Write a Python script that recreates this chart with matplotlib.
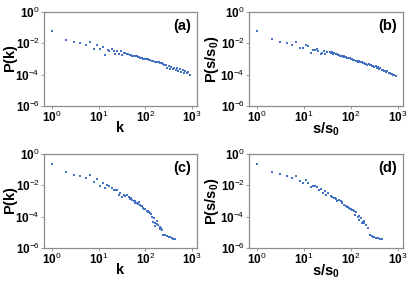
import math
import matplotlib
matplotlib.use("Agg")
import matplotlib.pyplot as plt
from matplotlib.ticker import FixedLocator, FuncFormatter, NullLocator

plt.rcParams['font.family'] = ['Liberation Sans', 'DejaVu Sans']
plt.rcParams['mathtext.fontset'] = 'custom'
plt.rcParams['mathtext.rm'] = 'Liberation Sans'
plt.rcParams['mathtext.bf'] = 'Liberation Sans:bold'
plt.rcParams['mathtext.it'] = 'Liberation Sans:italic'

# (a) degree distribution, first network
k_a = [1, 2, 3, 4, 5.4, 6.6, 7.9, 9.2, 10.6, 12.2, 13.5, 15.8, 17, 19, 21, 23, 25, 27.5, 30, 32, 35,
       37, 40, 43, 46, 49, 52, 56, 60, 65, 69, 74, 79, 85, 91, 98, 105, 112, 120, 129, 138, 148,
       158, 170, 182, 195, 209, 224, 240, 257, 275, 295, 316, 339, 363, 389, 417, 447, 479, 513,
       550, 589, 631, 676, 724, 776, 832, 891]
p_a = [0.057, 0.017, 0.0117, 0.0107, 0.0074, 0.0129, 0.0041, 0.0083, 0.0044, 0.0061, 0.0019,
       0.0039, 0.0034, 0.0044, 0.0031, 0.0020, 0.0034, 0.0021, 0.0031, 0.0017, 0.0023,
       2.5e-3, 2.0e-3, 2.2e-3, 1.8e-3, 1.9e-3, 1.6e-3, 1.66e-3, 1.45e-3, 1.48e-3, 1.32e-3,
       1.29e-3, 1.17e-3, 1.17e-3, 1.07e-3, 1.05e-3, 9.3e-4, 9.3e-4, 8.5e-4, 8.3e-4, 7.6e-4,
       7.4e-4, 6.8e-4, 6.6e-4, 6.0e-4, 6.0e-4, 5.4e-4, 5.2e-4, 5.0e-4, 4.4e-4, 4.2e-4, 2.8e-4,
       3.5e-4, 2.4e-4, 3.2e-4, 2.2e-4, 2.8e-4, 1.9e-4, 2.5e-4, 1.66e-4, 2.2e-4, 1.45e-4,
       2.0e-4, 1.32e-4, 1.66e-4, 1.2e-4, 1.4e-4, 1.0e-4]

# (b) strength distribution, first network
s_b = [1, 2.07, 3.1, 4.3, 5.5, 6.7, 8.1, 9.4, 10.9, 12.2, 13.9, 15.4, 17, 19, 20.3, 22.8, 24.4,
       26.8, 28.7, 31.6,
       35.5, 37.6, 39.8, 42.2, 44.7, 47.3, 50.1, 53.1, 56.2, 59.6, 63.1, 66.8, 70.8, 75.0, 79.4,
       84.1, 89.1, 94.4, 100, 106, 112, 119, 126, 133, 141, 150, 158, 168, 178, 188, 200, 211,
       224, 237, 251, 266, 282, 299, 316, 335, 355, 376, 398, 422, 447, 473, 501, 531, 562, 596,
       631, 668, 708, 750, 794, 841, 891]
p_b = [0.057, 0.018, 0.0115, 0.0107, 0.0074, 0.013, 0.0048, 0.0048, 0.0083, 0.0065, 0.0024,
       0.0039, 0.0035, 0.0046, 0.0032, 0.0022, 0.0025, 0.0032, 0.0022, 0.0029,
       3.0e-3, 2.5e-3, 2.7e-3, 2.2e-3, 2.3e-3, 2.0e-3, 2.1e-3, 1.78e-3, 1.86e-3, 1.62e-3,
       1.66e-3, 1.41e-3, 1.45e-3, 1.29e-3, 1.32e-3, 1.15e-3, 1.1e-3, 1.1e-3, 9.5e-4, 9.8e-4,
       8.5e-4, 8.7e-4, 7.4e-4, 7.8e-4, 6.9e-4, 7.1e-4, 6.0e-4, 6.3e-4, 5.4e-4, 5.8e-4, 5.0e-4,
       5.1e-4, 4.4e-4, 4.7e-4, 4.0e-4, 4.2e-4, 3.5e-4, 3.8e-4, 3.2e-4, 3.4e-4, 2.6e-4, 2.9e-4,
       2.3e-4, 2.5e-4, 1.9e-4, 2.1e-4, 1.66e-4, 1.8e-4, 1.4e-4, 1.6e-4, 1.26e-4, 1.3e-4,
       1.05e-4, 1.1e-4, 9.5e-5, 9.1e-5, 7.9e-5]

# (c) degree distribution, second network
k_c = [1, 2, 3, 4, 5.4, 6.6, 7.9, 9.2, 10.6, 12.2, 13.5, 15.5, 17, 19, 21, 23, 25, 27, 29.5, 32,
       34.5, 37.6, 40.7, 44.2, 47.9, 50.1, 52.5, 56.2, 58.9, 61.7, 66.1, 69.2, 72.4, 77.6, 81.3,
       85.1, 91.2, 95.5, 100, 107, 112, 117, 123, 129, 135, 138, 145, 151, 158, 162, 174, 178,
       191, 204, 209, 219, 229, 245, 269, 288, 316, 339, 372, 398, 427]
p_c = [0.22, 0.066, 0.049, 0.038, 0.030, 0.044, 0.0166, 0.0245, 0.0091, 0.0149, 0.0064, 0.010,
       0.0087, 0.0071, 0.0048, 0.0050, 0.0047, 0.0025, 0.0032, 0.0019, 0.0023,
       1.95e-3, 2.3e-3, 1.7e-3, 1.38e-3, 1.45e-3, 1.2e-3, 1.07e-3, 9.5e-4, 7.9e-4, 7.2e-4,
       6.6e-4, 8.5e-4, 5.6e-4, 5.0e-4, 4.5e-4, 3.5e-4, 3.2e-4, 2.95e-4, 2.45e-4, 2.3e-4,
       2.1e-4, 1.9e-4, 1.66e-4, 1.38e-4, 1.0e-4, 4.8e-5, 7.8e-5, 3.7e-5, 2.5e-5, 3.2e-5,
       5.5e-5, 2.9e-5, 1.55e-5, 2.3e-5, 1.8e-5, 1.4e-5, 6.6e-6, 6.3e-6, 5.6e-6, 5.0e-6,
       4.7e-6, 4.3e-6, 3.8e-6, 3.5e-6]

# (d) strength distribution, second network
s_d = [1, 2.07, 3.1, 4.3, 5.5, 6.7, 8.1, 9.4, 10.9, 12.2, 13.9, 15.4, 17, 18.8, 20.8, 22.8, 25,
       27.5, 30, 32.5, 37.2, 39.8, 42.7, 45.2, 47.9, 51.3, 56.2, 61.1, 63.1, 66.1, 71.9, 77.6,
       81.3, 85.1, 91.2, 95.5, 100, 107, 112, 117, 122, 128, 138, 145, 151, 162, 170, 178, 186,
       193, 209, 226, 257, 275, 288, 316, 343, 380, 407, 452]
p_d = [0.22, 0.069, 0.051, 0.041, 0.030, 0.042, 0.018, 0.0134, 0.021, 0.0134, 0.0074, 0.0095,
       0.0087, 0.0074, 0.0048, 0.0055, 0.0032, 0.0041, 0.0024, 0.0032,
       1.95e-3, 1.74e-3, 1.5e-3, 1.6e-3, 1.32e-3, 1.07e-3, 1.2e-3, 9.3e-4, 8.3e-4, 7.2e-4,
       5.6e-4, 4.9e-4, 4.3e-4, 4.0e-4, 3.5e-4, 3.2e-4, 3.0e-4, 2.7e-4, 2.5e-4, 2.3e-4,
       1.3e-4, 2.1e-4, 1.0e-4, 1.12e-4, 6.2e-5, 7.9e-5, 4.0e-5, 4.8e-5, 5.5e-5, 3.7e-5,
       2.9e-5, 2.0e-5, 6.6e-6, 5.8e-6, 5.1e-6, 4.8e-6, 4.5e-6, 4.1e-6, 3.8e-6, 3.5e-6]

panels = [
    (k_a, p_a, r'$\mathbf{k}$', r'$\mathbf{P(k)}$', '(a)'),
    (s_b, p_b, r'$\mathbf{s/s_0}$', r'$\mathbf{P(s/s_0)}$', '(b)'),
    (k_c, p_c, r'$\mathbf{k}$', r'$\mathbf{P(k)}$', '(c)'),
    (s_d, p_d, r'$\mathbf{s/s_0}$', r'$\mathbf{P(s/s_0)}$', '(d)'),
]

W, H = 415, 282
fig = plt.figure(figsize=(W / 100, H / 100), dpi=100)
boxes = [(44, 12, 197, 106), (249, 12, 403, 106), (44, 154, 197, 248), (249, 154, 403, 248)]
ylab_x = [-0.16, -0.185, -0.16, -0.185]

dot_color = '#4472C4'
edge = '#8c8c8c'


def fmt(v, pos):
    e = int(round(math.log10(v)))
    return r'$\mathbf{10}^{%d}$' % e


for (x, y, xl, yl, tag), (l, t, r, b), lx in zip(panels, boxes, ylab_x):
    ax = fig.add_axes([l / W, 1 - b / H, (r - l) / W, (b - t) / H])
    ax.plot(x, y, 's', color=dot_color, ms=1.8, mew=0)
    ax.set_xscale('log')
    ax.set_yscale('log')
    ax.set_xlim(0.68, 1280)
    ax.set_ylim(1e-6, 1)
    ax.xaxis.set_major_locator(FixedLocator([1, 10, 100, 1000]))
    ax.yaxis.set_major_locator(FixedLocator([1e-6, 1e-4, 1e-2, 1]))
    ax.xaxis.set_minor_locator(NullLocator())
    ax.yaxis.set_minor_locator(NullLocator())
    ax.xaxis.set_major_formatter(FuncFormatter(fmt))
    ax.yaxis.set_major_formatter(FuncFormatter(fmt))
    ax.tick_params(length=2, width=0.6, color=edge, labelsize=8.5, pad=1)
    for sp in ax.spines.values():
        sp.set_color(edge)
        sp.set_linewidth(0.9)
    ax.set_xlabel(xl, fontsize=10.5)
    ax.set_ylabel(yl, fontsize=10.5)
    ax.xaxis.set_label_coords(0.5, -0.15)
    ax.yaxis.set_label_coords(lx, 0.5)
    ax.text(0.9, 0.85, tag, transform=ax.transAxes, ha='center', va='center',
            fontsize=10.5, fontweight='bold')

fig.savefig('out.png', dpi=100)
